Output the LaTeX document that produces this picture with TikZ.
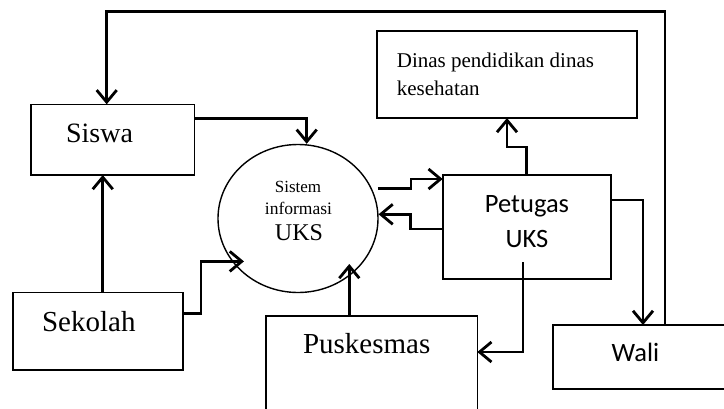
\documentclass[tikz,border=0pt]{standalone}
\usepackage{fontspec}
\setmainfont{Liberation Serif}
\newfontfamily\calfont{Carlito}
\usetikzlibrary{arrows.meta,shapes.geometric}
\newcommand{\flowW}{2.8pt}
\newcommand{\boxW}{1.6pt}
\newcommand{\topY}{313.3}

\begin{document}
\begin{tikzpicture}[x=1pt,y=-1pt,
        box/.style={draw, line width=\boxW, anchor=north west, inner sep=0pt, outer sep=0pt},
        flow/.style={line width=\flowW, -{Straight Barb[length=12pt,width=20pt]}},
        serif/.style={anchor=base, inner sep=0pt},
        sans/.style={anchor=base, inner sep=0pt, font=\calfont\fontsize{26.5}{32}\selectfont}]

        \useasboundingbox (0,0) rectangle (724,408);
        \clip (0,0) rectangle (724,408);

        % Draw the boxes and the process
        \node[box, minimum width=163.6pt, minimum height=70.7pt] (siswa) at (30.7,104.3) {};
        \node[box, minimum width=170.3pt, minimum height=77.7pt] (sekolah) at (12.7,292.3) {};
        \node[box, minimum width=211.6pt, minimum height=98pt] (puskesmas) at (265.7,316) {};
        \node[box, minimum width=168pt, minimum height=104pt] (petugas) at (442.7,175) {};
        \node[box, minimum width=260pt, minimum height=87.3pt] (dinas) at (377,30.7) {};
        \node[box, minimum width=180pt, minimum height=64pt] (wali) at (553,325) {};
        \node[draw, ellipse, line width=1.4pt, minimum width=160pt, minimum height=148pt,
              inner sep=0pt] (sistem) at (298,218.5) {};

        % Texts
        \node[serif, font=\fontsize{28}{34}\selectfont] (tSiswa) at (99.5,142.7) {Siswa};
        \node[serif, font=\fontsize{29}{35}\selectfont] (tSekolah) at (88.8,331.7) {Sekolah};
        \node[serif, font=\fontsize{29}{35}\selectfont] (tPuskesmas) at (366.7,353.3) {Puskesmas};
        \node[serif, anchor=base west, font=\fontsize{21}{26}\selectfont] (tDinas) at (396.7,67.7) {Dinas pendidikan dinas};
        \node[serif, anchor=base west, font=\fontsize{21}{26}\selectfont] (tKesehatan) at (396.7,95) {kesehatan};
        \node[serif, font=\fontsize{17}{20}\selectfont] (tSistem) at (298,192.3) {Sistem};
        \node[serif, font=\fontsize{17.5}{20}\selectfont] (tInformasi) at (298.5,214) {informasi};
        \node[serif, font=\fontsize{24}{28}\selectfont] (tUks) at (299,240.7) {UKS};
        \node[sans] (tPetugas) at (527,212.7) {Petugas};
        \node[sans] (tPetugasUks) at (527,247.7) {UKS};
        \node[sans] (tWali) at (635.5,361.7) {Wali};

        % Wali back to Siswa over the top
        \draw[flow] ([xshift=22pt]wali.north) -- ++(0,-\topY) -| ([xshift=-5.8pt]siswa.north);

        % Into the system
        \draw[flow] ([yshift=21.3pt]siswa.east) -| ([xshift=8.7pt]sistem.north);
        \draw[flow] ([xshift=4.9pt]sekolah.north) -- ++(0,-117.3);
        \draw[flow] ([yshift=17.9pt]sekolah.east) -- ++(18,0) |- ([xshift=12pt]sistem.213);
        \draw[flow] ([xshift=-22.2pt]puskesmas.north) -- ++(0,-52);

        % System and Petugas both ways
        \draw[flow] ([xshift=6pt]sistem.22) -- ++(33,0) |- ([yshift=48pt]petugas.west);
        \draw[flow] ([yshift=-2pt]petugas.west) -- ++(-32.3,0) |- (sistem.3);

        % Petugas out to Dinas, Wali and Puskesmas
        \draw[flow] (petugas.north) -- ++(0,-28) -| (dinas.south);
        \draw[flow] ([yshift=27pt]petugas.east) -| ([xshift=0pt]wali.north);
        \draw[flow] ([xshift=-3.7pt,yshift=17pt]petugas.south) |- ([yshift=13pt]puskesmas.east);
    \end{tikzpicture}
\end{document}
